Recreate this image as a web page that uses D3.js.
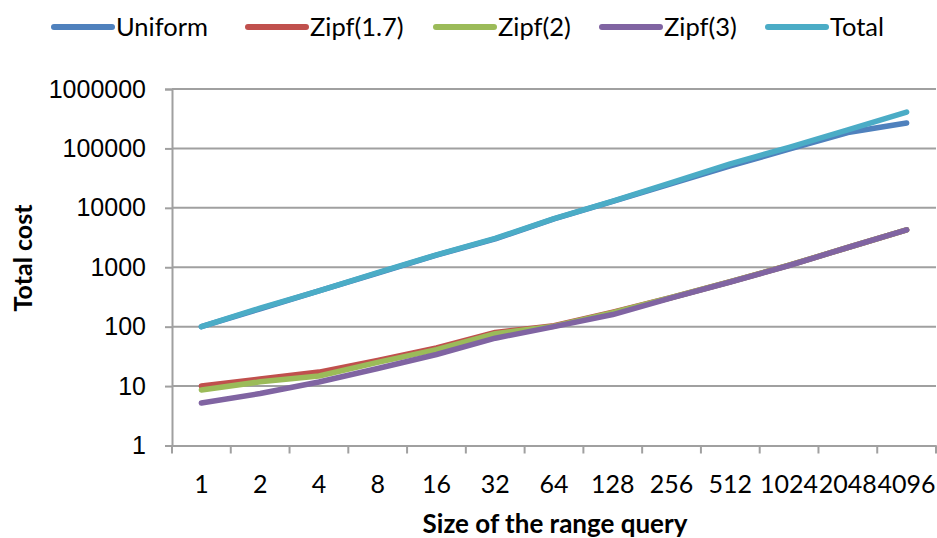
<!DOCTYPE html>
<html>
<head>
<meta charset="utf-8">
<script src="https://cdn.jsdelivr.net/npm/d3@7"></script>
<style>
  body { margin: 0; background: #fff; }
  svg { display: block; }
</style>
</head>
<body>
<div id="chart"></div>
<script>
const sizes = ["1", "2", "4", "8", "16", "32", "64", "128", "256", "512", "1024", "2048", "4096"];
const uniform = [100, 200, 400, 800, 1600, 3000, 6500, 12800, 25500, 51000, 97000, 185000, 268000];
const zipf17 = [10, 13.2, 17.2, 27, 44, 80, 104, 175, 310, 570, 1080, 2150, 4250];
const zipf2 = [8.6, 11.8, 14.8, 25, 41, 76, 102, 172, 310, 570, 1080, 2150, 4250];
const zipf3 = [5.2, 7.5, 11.7, 19.8, 34, 64, 100, 160, 305, 565, 1070, 2150, 4250];
const total = [100, 205, 400, 810, 1620, 3050, 6600, 13000, 26500, 55000, 104000, 205000, 410000];
const yTicks = [1, 10, 100, 1000, 10000, 100000, 1000000];

const seriesNames = ["Uniform", "Zipf(1.7)", "Zipf(2)", "Zipf(3)", "Total"];
const seriesValues = [uniform, zipf17, zipf2, zipf3, total];
const colors = ["#4F81BD", "#C0504D", "#9BBB59", "#8064A2", "#4BACC6"];

const width = 937;
const height = 538;
const margin = { top: 89, right: 1, bottom: 92.5, left: 172 };

const svg = d3
  .select("#chart")
  .append("svg")
  .attr("width", width)
  .attr("height", height);

const x = d3
  .scaleBand()
  .domain(sizes)
  .range([margin.left, width - margin.right]);

const y = d3
  .scaleLog()
  .domain([1, 1000000])
  .range([height - margin.bottom, margin.top]);

// gridlines
svg
  .append("g")
  .selectAll("line")
  .data(yTicks.slice(1))
  .enter()
  .append("line")
  .attr("x1", margin.left)
  .attr("x2", width - margin.right)
  .attr("y1", (d) => y(d))
  .attr("y2", (d) => y(d))
  .attr("stroke", "#a0a0a0")
  .attr("stroke-width", 2);

// y axis
const yAxis = svg
  .append("g")
  .attr("transform", `translate(${margin.left},0)`)
  .call(d3.axisLeft(y).tickValues(yTicks).tickFormat(d3.format("d")).tickSize(7).tickPadding(19));
yAxis.select(".domain").attr("stroke", "#a0a0a0").attr("stroke-width", 2);
yAxis.selectAll(".tick line").attr("stroke", "#a0a0a0").attr("stroke-width", 2);
yAxis
  .selectAll(".tick text")
  .attr("fill", "#000")
  .style("font-family", "'Liberation Sans', Arial, sans-serif")
  .style("font-size", "25px");

// x axis
const xAxis = svg
  .append("g")
  .attr("transform", `translate(0,${height - margin.bottom})`)
  .call(d3.axisBottom(x).tickSize(0).tickPadding(30));
xAxis.select(".domain").attr("stroke", "#a0a0a0").attr("stroke-width", 2);
xAxis
  .selectAll(".tick text")
  .attr("fill", "#000")
  .style("font-family", "Lato, sans-serif")
  .style("font-size", "25px");

// x ticks sit between categories
svg
  .append("g")
  .selectAll("line")
  .data(sizes.concat(["end"]))
  .enter()
  .append("line")
  .attr("x1", (d, i) => margin.left + i * x.step())
  .attr("x2", (d, i) => margin.left + i * x.step())
  .attr("y1", height - margin.bottom)
  .attr("y2", height - margin.bottom + 8)
  .attr("stroke", "#a0a0a0")
  .attr("stroke-width", 2);

// lines
const line = d3
  .line()
  .x((d, i) => x(sizes[i]) + x.bandwidth() / 2)
  .y((d) => y(d));

svg
  .append("g")
  .selectAll("path")
  .data(seriesValues)
  .enter()
  .append("path")
  .attr("d", (d) => line(d))
  .attr("fill", "none")
  .attr("stroke", (d, i) => colors[i])
  .attr("stroke-width", 5.5)
  .attr("stroke-linejoin", "round")
  .attr("stroke-linecap", "round");

// axis titles
svg
  .append("text")
  .attr("transform", `translate(32,258) rotate(-90)`)
  .attr("text-anchor", "middle")
  .style("font-family", "Lato, sans-serif")
  .style("font-size", "25px")
  .style("font-weight", "bold")
  .text("Total cost");

svg
  .append("text")
  .attr("x", 555)
  .attr("y", 533)
  .attr("text-anchor", "middle")
  .style("font-family", "Lato, sans-serif")
  .style("font-size", "26px")
  .style("font-weight", "bold")
  .text("Size of the range query");

// legend
const legendX = [54, 248, 436, 602, 768];
const legend = svg
  .append("g")
  .selectAll("g")
  .data(seriesNames)
  .enter()
  .append("g")
  .attr("transform", (d, i) => `translate(${legendX[i]},27)`);

legend
  .append("line")
  .attr("x1", 0)
  .attr("x2", 58)
  .attr("stroke", (d, i) => colors[i])
  .attr("stroke-width", 6)
  .attr("stroke-linecap", "round");

legend
  .append("text")
  .attr("x", 62)
  .attr("y", 9)
  .style("font-family", "Lato, sans-serif")
  .style("font-size", "25.5px")
  .text((d) => d);
</script>
</body>
</html>
